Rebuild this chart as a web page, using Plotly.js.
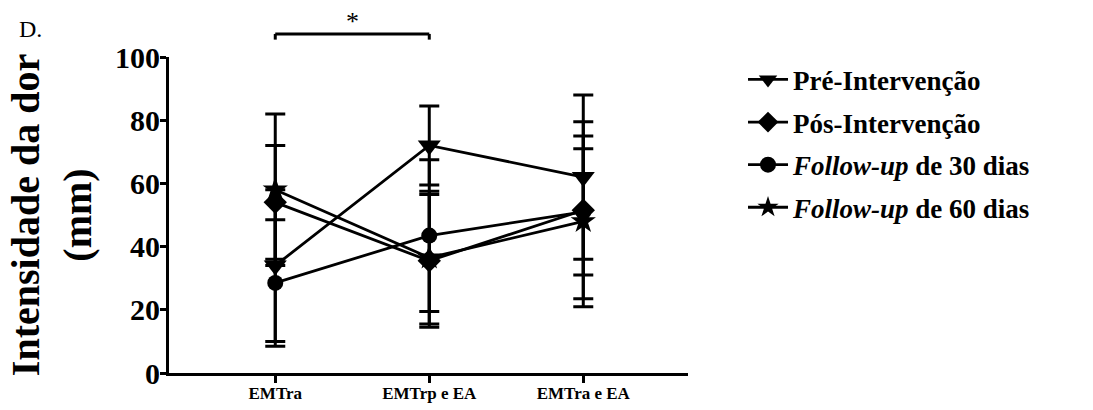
<!DOCTYPE html>
<html>
<head>
<meta charset="utf-8">
<script src="https://cdn.plot.ly/plotly-3.0.1.min.js"></script>
<style>html,body{margin:0;padding:0;background:#fff;}</style>
</head>
<body>
<div id="chart" style="width:1093px;height:410px;"></div>
<script>
// Categories
const categories = ['EMTra', 'EMTrp e EA', 'EMTra e EA'];

// Series names
const seriesNames = ['Pré-Intervenção', 'Pós-Intervenção', '<i>Follow-up</i> de 30 dias', '<i>Follow-up</i> de 60 dias'];

// Means (mm)
const preMean    = [34, 72, 62];
const posMean    = [54, 35.5, 51.5];
const fu30Mean   = [28.5, 43.5, 51];
const fu60Mean   = [58, 36.5, 48];

// Error bar half-lengths (SD)
const preErr   = [24, 12.5, 26];
const posErr   = [18, 21, 28];
const fu30Err  = [20, 24, 20];
const fu60Err  = [24, 21, 27];

// Significance bracket
const sigPair = ['EMTra', 'EMTrp e EA'];
const sigLevel = 107.3;
const sigDrop = 1.8;
const sigLabel = '*';

const yRange = [0, 100];
const yTicks = [0, 20, 40, 60, 80, 100];

const symbols = ['triangle-down', 'diamond', 'circle', 'star'];
const sizes = [20, 18, 16, 19];
const means = [preMean, posMean, fu30Mean, fu60Mean];
const errs = [preErr, posErr, fu30Err, fu60Err];

const serif = 'Liberation Serif';

const traces = means.map((m, i) => ({
  type: 'scatter',
  mode: 'lines+markers',
  x: categories,
  y: m,
  name: seriesNames[i],
  legendgroup: 'g' + i,
  line: {color: '#000', width: 2.8},
  marker: {symbol: symbols[i], size: sizes[i], color: '#000', line: {width: 0}},
  error_y: {type: 'data', array: errs[i], visible: true, color: '#000', thickness: 3, width: 10},
  cliponaxis: false
}));

// convert data level to paper fraction for elements above the plotting range
const toPaper = v => (v - yRange[0]) / (yRange[1] - yRange[0]);

const layout = {
  width: 1093, height: 410,
  margin: {l: 169, r: 405, t: 57, b: 37},
  paper_bgcolor: '#fff', plot_bgcolor: '#fff',
  showlegend: true,
  font: {family: serif, color: '#000'},
  xaxis: {
    type: 'category',
    range: [-0.69, 2.68],
    showline: true, linecolor: '#000', linewidth: 3,
    ticks: 'outside', ticklen: 7, tickwidth: 3, tickcolor: '#000',
    tickfont: {family: serif, size: 17, weight: 'bold', color: '#000'},
    ticklabelstandoff: -4,
    showgrid: false, zeroline: false, fixedrange: true
  },
  yaxis: {
    range: yRange,
    tickvals: yTicks,
    showline: true, linecolor: '#000', linewidth: 3,
    ticks: 'outside', ticklen: 6, tickwidth: 3, tickcolor: '#000',
    tickfont: {family: serif, size: 30, weight: 'bold', color: '#000'},
    ticklabelstandoff: -6,
    showgrid: false, zeroline: false, fixedrange: true,
    title: {text: 'Intensidade da dor<br>(mm)', font: {family: serif, size: 40, weight: 'bold', color: '#000'}, standoff: 12}
  },
  legend: {
    x: 1.106, xanchor: 'left', y: 1.005, yanchor: 'top',
    font: {family: serif, size: 27, weight: 'bold', color: '#000'},
    traceorder: 'grouped', tracegroupgap: 4.5,
    itemsizing: 'trace', itemwidth: 40,
    bgcolor: 'rgba(0,0,0,0)'
  },
  shapes: [
    {type: 'line', xref: 'x', yref: 'paper', x0: sigPair[0], x1: sigPair[1], y0: toPaper(sigLevel), y1: toPaper(sigLevel), line: {color: '#000', width: 3}},
    {type: 'line', xref: 'x', yref: 'paper', x0: sigPair[0], x1: sigPair[0], y0: toPaper(sigLevel), y1: toPaper(sigLevel - sigDrop), line: {color: '#000', width: 3}},
    {type: 'line', xref: 'x', yref: 'paper', x0: sigPair[1], x1: sigPair[1], y0: toPaper(sigLevel), y1: toPaper(sigLevel - sigDrop), line: {color: '#000', width: 3}}
  ],
  annotations: [
    {text: sigLabel, xref: 'x', yref: 'paper', x: 0.5, y: toPaper(sigLevel), yanchor: 'bottom', showarrow: false, font: {family: serif, size: 26, color: '#000'}, yshift: -4},
    {text: 'D.', xref: 'paper', yref: 'paper', x: -0.293, y: 1.135, xanchor: 'left', yanchor: 'top', showarrow: false, font: {family: serif, size: 24, color: '#000'}}
  ]
};

Plotly.newPlot('chart', traces, layout, {displayModeBar: false, staticPlot: true});
</script>
</body>
</html>
